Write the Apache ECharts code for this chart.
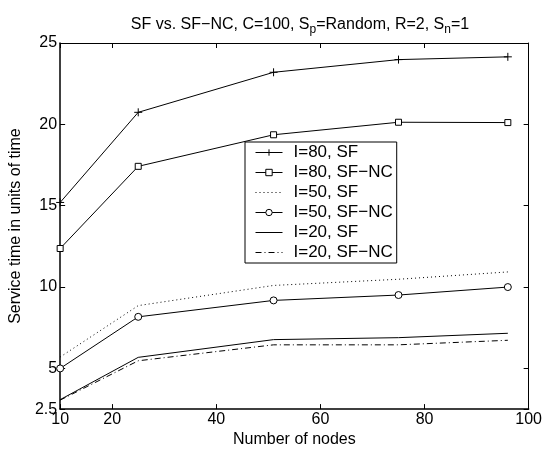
<!DOCTYPE html>
<html>
<head>
<meta charset="utf-8">
<script src="https://cdn.jsdelivr.net/npm/echarts@6/dist/echarts.min.js"></script>
<style>
html,body{margin:0;padding:0;background:#fff;}
#chart{width:545px;height:453px;}
</style>
</head>
<body>
<div id="chart"></div>
<script>
var nodes = [10, 25, 51, 75, 96];
var i80SF = [15.2, 20.74, 23.2, 23.98, 24.15];
var i80NC = [12.37, 17.42, 19.36, 20.13, 20.11];
var i50SF = [5.7, 8.86, 10.1, 10.48, 10.93];
var i50NC = [5.0, 8.17, 9.18, 9.51, 10.0];
var i20SF = [3.08, 5.68, 6.77, 6.89, 7.16];
var i20NC = [3.05, 5.47, 6.45, 6.45, 6.73];
var xTicks = [10, 20, 40, 60, 80, 100];
var yTicks = [2.5, 5, 10, 15, 20, 25];
var seriesNames = ['I=80, SF', 'I=80, SF\u2212NC', 'I=50, SF', 'I=50, SF\u2212NC', 'I=20, SF', 'I=20, SF\u2212NC'];

function pairs(ys) { return nodes.map(function (x, i) { return [x, ys[i]]; }); }

var FONT = 'Liberation Sans, Arial, Helvetica, sans-serif';
var plusPath = 'path://M0,5L10,5M5,0L5,10';
var CLEAR = 'rgba(0,0,0,0)';

function mk(name, ys, opts) {
  var s = {
    name: name, type: 'line', data: pairs(ys), animation: false,
    lineStyle: { color: '#000', width: 1, type: opts.type || 'solid' },
    itemStyle: { color: '#fff', borderColor: '#000', borderWidth: 1 },
    symbol: opts.symbol || 'circle',
    symbolSize: opts.size || 6,
    showSymbol: !!opts.symbol,
    emphasis: { disabled: true }, z: 3
  };
  if (opts.symbol === plusPath) {
    s.itemStyle = { color: CLEAR, borderColor: '#000', borderWidth: 1 };
  }
  if (!opts.symbol) {
    s.itemStyle = { color: CLEAR, borderColor: CLEAR, borderWidth: 0 };
  }
  return s;
}

var xBase = { type: 'value', min: 10, max: 100,
  axisLine: { lineStyle: { color: '#000', width: 1 } },
  splitLine: { show: false } };
var yBase = { type: 'value', min: 2.5, max: 25,
  axisLine: { lineStyle: { color: '#000', width: 1 } },
  splitLine: { show: false } };

var chart = echarts.init(document.getElementById('chart'), null, { renderer: 'canvas' });
chart.setOption({
  backgroundColor: '#fff',
  animation: false,
  textStyle: { fontFamily: FONT },
  title: {
    text: 'SF vs. SF\u2212NC, C=100, S{sub|p}=Random, R=2, S{sub|n}=1',
    left: 295, textAlign: 'center', top: 9,
    textStyle: { fontFamily: FONT, fontSize: 16, fontWeight: 'normal', color: '#000',
      rich: { sub: { fontFamily: FONT, fontSize: 12, color: '#000', padding: [10, 0, 0, 0], verticalAlign: 'bottom' } } }
  },
  grid: { left: 59, right: 14, top: 43, bottom: 39, containLabel: false },
  legend: {
    orient: 'vertical', left: 245, top: 142,
    data: seriesNames,
    backgroundColor: '#fff', borderColor: '#000', borderWidth: 1,
    padding: [2, 4, 2, 10], itemGap: 3, itemWidth: 27, itemHeight: 8,
    itemStyle: { borderWidth: 1 },
    lineStyle: { width: 1 },
    textStyle: { fontFamily: FONT, fontSize: 17, color: '#000', padding: [0, 0, 0, 6] },
    selectedMode: false
  },
  xAxis: [
    Object.assign({}, xBase, {
      position: 'bottom', name: 'Number of nodes', nameLocation: 'middle', nameGap: 21,
      nameTextStyle: { fontFamily: FONT, fontSize: 16, color: '#000' },
      axisLine: { lineStyle: { color: '#000', width: 1.5 } },
      axisTick: { inside: true, length: 5, customValues: xTicks, lineStyle: { color: '#000' } },
      axisLabel: { customValues: xTicks, margin: 2, fontSize: 16, color: '#000', fontFamily: FONT }
    }),
    Object.assign({}, xBase, {
      position: 'top',
      axisTick: { inside: true, length: 5, customValues: xTicks, lineStyle: { color: '#000' } },
      axisLabel: { show: false }
    })
  ],
  yAxis: [
    Object.assign({}, yBase, {
      position: 'left', name: 'Service time in units of time', nameLocation: 'middle', nameGap: 27,
      nameTextStyle: { fontFamily: FONT, fontSize: 16, color: '#000' },
      axisLine: { lineStyle: { color: '#000', width: 1.5 } },
      axisTick: { inside: true, length: 5, customValues: yTicks, lineStyle: { color: '#000' } },
      axisLabel: { customValues: yTicks, margin: 3, fontSize: 16, color: '#000', fontFamily: FONT }
    }),
    Object.assign({}, yBase, {
      position: 'right',
      axisTick: { inside: true, length: 5, customValues: yTicks, lineStyle: { color: '#000' } },
      axisLabel: { show: false }
    })
  ],
  series: [
    mk(seriesNames[0], i80SF, { symbol: plusPath, size: 8 }),
    mk(seriesNames[1], i80NC, { symbol: 'rect', size: 6 }),
    mk(seriesNames[2], i50SF, { type: [1, 3] }),
    mk(seriesNames[3], i50NC, { symbol: 'circle', size: 7 }),
    mk(seriesNames[4], i20SF, {}),
    mk(seriesNames[5], i20NC, { type: [6, 3, 1, 3] })
  ]
});
</script>
</body>
</html>
